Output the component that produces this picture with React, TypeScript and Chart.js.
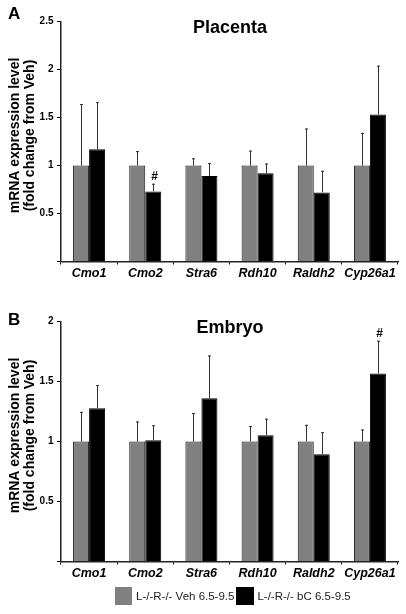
import React, { useEffect, useRef } from 'react';
import { Chart, registerables } from 'chart.js';

Chart.register(...registerables);

const FONT = "'Liberation Sans', Arial, Helvetica, sans-serif";

const categories = ['Cmo1', 'Cmo2', 'Stra6', 'Rdh10', 'Raldh2', 'Cyp26a1'];
const seriesLabels = ['L-/-R-/- Veh 6.5-9.5', 'L-/-R-/- bC 6.5-9.5'];
const seriesColors = ['#808080', '#000000'];

const placentaVeh = [1, 1, 1, 1, 1, 1];
const placentaVehErr = [0.64, 0.15, 0.075, 0.155, 0.385, 0.34];
const placentaBC = [1.17, 0.73, 0.89, 0.92, 0.72, 1.53];
const placentaBCErr = [0.49, 0.08, 0.135, 0.1, 0.225, 0.51];
const placentaSig = ['', '#', '', '', '', ''];
const placentaMax = 2.5;

const embryoVeh = [1, 1, 1, 1, 1, 1];
const embryoVehErr = [0.247, 0.167, 0.237, 0.128, 0.139, 0.1];
const embryoBC = [1.278, 1.011, 1.36, 1.053, 0.894, 1.567];
const embryoBCErr = [0.192, 0.125, 0.357, 0.137, 0.184, 0.273];
const embryoSig = ['', '', '', '', '', '#'];
const embryoMax = 2;

const yTitleLines = ['mRNA expression level', '(fold change from Veh)'];

type PanelProps = {
  letter: string;
  letterBaseline: number;
  title: string;
  titleBaseline: number;
  veh: number[];
  vehErr: number[];
  bc: number[];
  bcErr: number[];
  sig: string[];
  yMax: number;
  top: number;
};

function Panel(p: PanelProps) {
  const ref = useRef<HTMLCanvasElement | null>(null);
  useEffect(() => {
    if (!ref.current) return;
    const errorBars = {
      id: 'errorBars',
      afterDatasetsDraw(chart: any) {
        const ctx = chart.ctx;
        const ys = chart.scales.y;
        chart.data.datasets.forEach((ds: any, i: number) => {
          const meta = chart.getDatasetMeta(i);
          meta.data.forEach((el: any, j: number) => {
            const v = ds.data[j];
            const top = ys.getPixelForValue(v + ds.errors[j]);
            const x = Math.round(el.x) + 0.5;
            ctx.save();
            ctx.strokeStyle = '#333';
            ctx.lineWidth = 1;
            ctx.beginPath();
            ctx.moveTo(x, el.y);
            ctx.lineTo(x, top);
            ctx.moveTo(x - 1.5, top + 0.5);
            ctx.lineTo(x + 1.5, top + 0.5);
            ctx.stroke();
            if (ds.sig && ds.sig[j]) {
              ctx.fillStyle = '#000';
              ctx.font = `bold 12px ${FONT}`;
              ctx.textAlign = 'center';
              ctx.textBaseline = 'alphabetic';
              ctx.fillText(ds.sig[j], x + 1, top - 4);
            }
            ctx.restore();
          });
        });
      },
    };
    const texts = {
      id: 'panelTexts',
      afterDraw(chart: any) {
        const ctx = chart.ctx;
        const area = chart.chartArea;
        ctx.save();
        ctx.fillStyle = '#000';
        ctx.textBaseline = 'alphabetic';
        ctx.textAlign = 'left';
        ctx.font = `bold 17px ${FONT}`;
        ctx.fillText(p.letter, 8, p.letterBaseline);
        ctx.textAlign = 'center';
        ctx.font = `bold 18px ${FONT}`;
        ctx.fillText(p.title, 230, p.titleBaseline);
        ctx.font = `bold 14px ${FONT}`;
        ctx.textBaseline = 'middle';
        const yc = (area.top + area.bottom) / 2 - 6;
        yTitleLines.forEach((line, k) => {
          ctx.save();
          ctx.translate(15 + k * 15.5, yc);
          ctx.rotate(-Math.PI / 2);
          ctx.fillText(line, 0, 0);
          ctx.restore();
        });
        ctx.restore();
      },
    };
    const chart = new Chart(ref.current, {
      type: 'bar',
      data: {
        labels: categories,
        datasets: [
          {
            label: seriesLabels[0],
            data: p.veh,
            errors: p.vehErr,
            backgroundColor: seriesColors[0],
            borderColor: '#111',
            borderWidth: 1,
          } as any,
          {
            label: seriesLabels[1],
            data: p.bc,
            errors: p.bcErr,
            sig: p.sig,
            backgroundColor: seriesColors[1],
            borderColor: '#000',
            borderWidth: 1,
          } as any,
        ],
      },
      options: {
        responsive: false,
        animation: false,
        layout: { padding: { left: 0, right: 8, top: 21.5, bottom: 0 } },
        datasets: { bar: { categoryPercentage: 0.57, barPercentage: 1 } },
        plugins: {
          legend: { display: false },
          tooltip: { enabled: false },
          title: { display: false },
        },
        scales: {
          x: {
            grid: { drawOnChartArea: false, drawTicks: true, tickLength: 3, color: '#000', offset: true },
            border: { display: true, color: '#222', width: 1.5 },
            ticks: {
              font: { family: FONT, size: 12.5, weight: 'bold', style: 'italic' },
              color: '#000',
              padding: 1.5,
              maxRotation: 0,
              autoSkip: false,
            },
            afterFit: (s: any) => {
              s.height = 28.5;
            },
          },
          y: {
            min: 0,
            max: p.yMax,
            ticks: {
              stepSize: 0.5,
              callback: (v: any) => (v === 0 ? '' : String(v)),
              font: { family: FONT, size: 10, weight: 'bold' },
              color: '#000',
              padding: 3.5,
            },
            grid: { drawOnChartArea: false, drawTicks: true, tickLength: 4, color: '#000' },
            border: { display: true, color: '#222', width: 1.5 },
            afterFit: (s: any) => {
              s.width = 61;
            },
          },
        },
      } as any,
      plugins: [errorBars, texts],
    });
    return () => chart.destroy();
  }, []);
  return (
    <canvas
      ref={ref}
      width={406}
      height={290}
      style={{ position: 'absolute', left: 0, top: p.top, width: 406, height: 290 }}
    />
  );
}

export default function App() {
  return (
    <div style={{ position: 'absolute', left: 0, top: 0, width: 406, height: 614, background: '#fff', fontFamily: FONT }}>
      <Panel
        letter="A"
        letterBaseline={18.5}
        title="Placenta"
        titleBaseline={33}
        veh={placentaVeh}
        vehErr={placentaVehErr}
        bc={placentaBC}
        bcErr={placentaBCErr}
        sig={placentaSig}
        yMax={placentaMax}
        top={0}
      />
      <Panel
        letter="B"
        letterBaseline={25}
        title="Embryo"
        titleBaseline={32.5}
        veh={embryoVeh}
        vehErr={embryoVehErr}
        bc={embryoBC}
        bcErr={embryoBCErr}
        sig={embryoSig}
        yMax={embryoMax}
        top={300}
      />
      <div style={{ position: 'absolute', left: 115, top: 587, height: 18, display: 'flex', alignItems: 'center', fontSize: 11.5, color: '#222', whiteSpace: 'nowrap' }}>
        <span style={{ display: 'inline-block', width: 17, height: 18, background: seriesColors[0], marginRight: 4 }} />
        <span>{seriesLabels[0]}</span>
        <span style={{ display: 'inline-block', width: 18, height: 18, background: seriesColors[1], marginLeft: 2, marginRight: 3 }} />
        <span>{seriesLabels[1]}</span>
      </div>
    </div>
  );
}
